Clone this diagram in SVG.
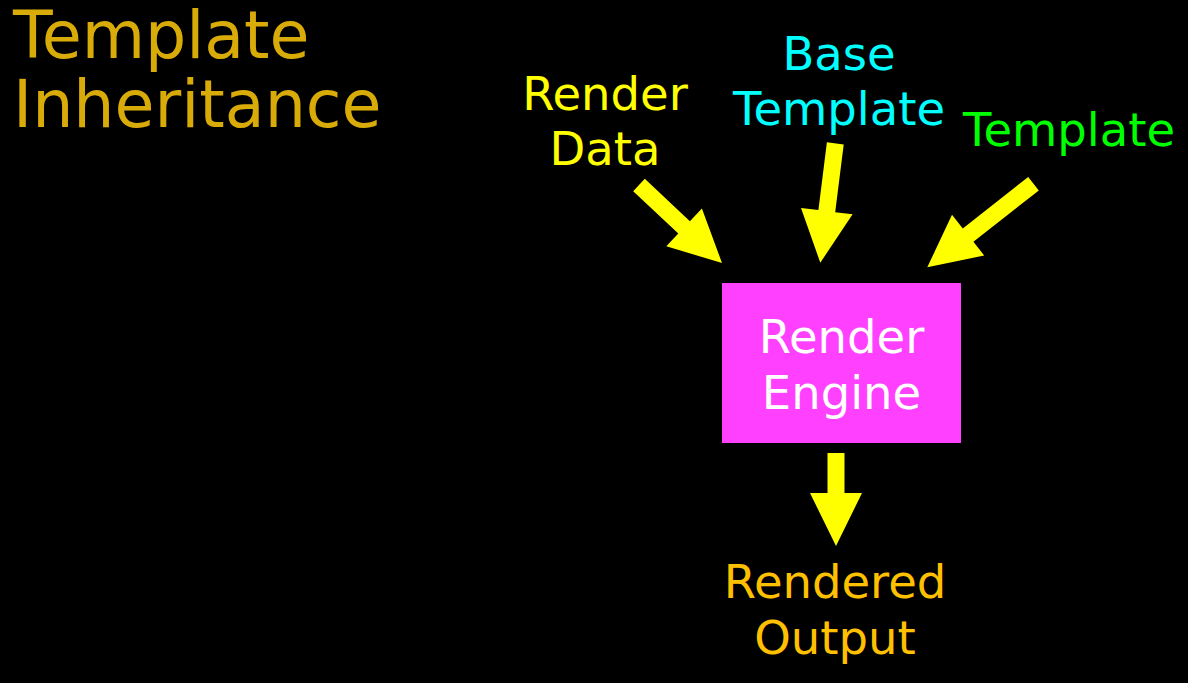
<svg xmlns="http://www.w3.org/2000/svg" width="1188" height="683" viewBox="0 0 1188 683">
<style>
text{font-family:"DejaVu Sans","Liberation Sans",sans-serif;text-anchor:middle;}
.lbl{font-size:46.5px;}
.arrow{fill:#FFFF00;}
</style>
<rect x="0" y="0" width="1188" height="683" fill="#000000"/>
<g id="title">
<text x="13" y="58" font-size="65" fill="#D9AB08" style="text-anchor:start">Template</text>
<text x="13" y="127" font-size="65" fill="#D9AB08" style="text-anchor:start">Inheritance</text>
</g>
<g id="render-data">
<text class="lbl" x="605" y="110" fill="#FFFF00">Render</text>
<text class="lbl" x="605" y="165" fill="#FFFF00">Data</text>
</g>
<g id="base-template">
<text class="lbl" x="839" y="70" fill="#00FFFF">Base</text>
<text class="lbl" x="839" y="125" fill="#00FFFF">Template</text>
</g>
<g id="template">
<text class="lbl" x="1069" y="146" fill="#00FF00">Template</text>
</g>
<g id="render-engine">
<rect x="722" y="283" width="239" height="160" fill="#FF40FF"/>
<text class="lbl" x="841.5" y="353" fill="#FFFFFF">Render</text>
<text class="lbl" x="841.5" y="409" fill="#FFFFFF">Engine</text>
</g>
<g id="rendered-output">
<text class="lbl" x="835" y="598" fill="#FFC000">Rendered</text>
<text class="lbl" x="835" y="654" fill="#FFC000">Output</text>
</g>
<g id="connectors">
<polygon class="arrow" points="633.2,191.2 678.3,233.6 666.3,246.3 722,263 701.9,208.5 689.9,221.2 644.8,178.8"/>
<polygon class="arrow" points="826.9,142.2 818.4,210.0 801.0,207.9 820.3,262.7 852.6,214.3 835.2,212.2 843.7,144.4"/>
<polygon class="arrow" points="1028.2,177.0 962.8,228.4 952.0,214.7 927.3,267.3 984.2,255.5 973.4,241.8 1038.8,190.4"/>
<polygon class="arrow" points="827.5,453 844.5,453 844.5,493 862,493 836,546 810,493 827.5,493"/>
</g>
</svg>
